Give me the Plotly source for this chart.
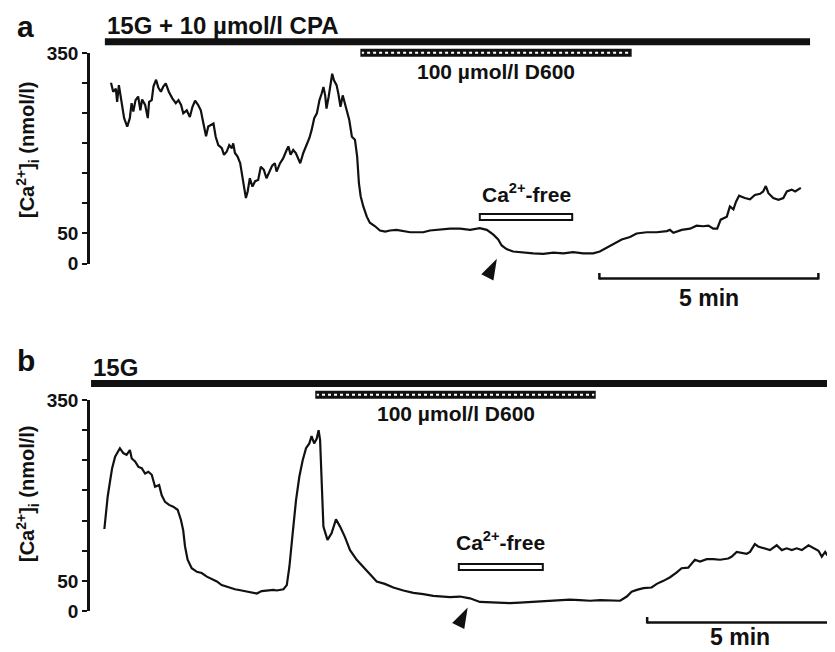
import plotly.graph_objects as go

# page body has an 8 px margin: draw a figure that fits the window exactly
OFF = 8
W, H = 835 - OFF, 652 - OFF

# ---------------- data (time in min, [Ca2+]i in nmol/l) ----------------
t_a = [0.00, 0.05, 0.11, 0.14, 0.18, 0.24, 0.30, 0.37, 0.43, 0.47,
       0.51, 0.56, 0.62, 0.67, 0.71, 0.78, 0.84, 0.87, 0.93, 0.97,
       1.03, 1.08, 1.14, 1.19, 1.25, 1.32, 1.40, 1.48, 1.54, 1.60,
       1.65, 1.73, 1.80, 1.86, 1.92, 1.99, 2.05, 2.11, 2.17, 2.22,
       2.28, 2.34, 2.39, 2.45, 2.53, 2.58, 2.64, 2.70, 2.76, 2.79,
       2.83, 2.89, 2.95, 2.98, 3.03, 3.08, 3.12, 3.17, 3.23, 3.29,
       3.36, 3.42, 3.49, 3.55, 3.61, 3.68, 3.74, 3.78, 3.86, 3.93,
       4.01, 4.05, 4.10, 4.16, 4.22, 4.32, 4.39, 4.47, 4.53, 4.58,
       4.64, 4.70, 4.76, 4.81, 4.85, 4.89, 4.92, 4.97, 5.02, 5.05,
       5.09, 5.15, 5.19, 5.24, 5.29, 5.34, 5.39, 5.44, 5.50, 5.57,
       5.62, 5.66, 5.70, 5.76, 5.84, 5.91, 6.03, 6.14, 6.26, 6.37,
       6.52, 6.67, 6.83, 6.98, 7.13, 7.28, 7.44, 7.59, 7.74, 7.97,
       8.20, 8.42, 8.58, 8.73, 8.84, 8.92, 9.03, 9.18, 9.41, 9.64,
       9.87, 10.10, 10.33, 10.55, 10.78, 11.01, 11.16, 11.32, 11.47, 11.66,
       11.85, 12.00, 12.23, 12.46, 12.69, 12.76, 12.84, 13.03, 13.22, 13.37,
       13.52, 13.64, 13.75, 13.84, 13.92, 14.06, 14.13, 14.21, 14.27, 14.34,
       14.47, 14.59, 14.70, 14.82, 14.89, 14.95, 15.01, 15.12, 15.24, 15.35,
       15.43, 15.54, 15.62, 15.75]
ca_a = [301, 286, 291, 269, 297, 267, 242, 228, 242, 267,
        253, 272, 278, 255, 273, 264, 242, 269, 272, 295,
        306, 293, 286, 294, 300, 286, 275, 267, 272, 264,
        250, 255, 244, 261, 271, 264, 255, 233, 212, 228,
        231, 233, 211, 197, 192, 181, 186, 197, 192, 200,
        184, 178, 167, 150, 131, 109, 120, 142, 128, 137,
        139, 161, 156, 142, 153, 163, 167, 153, 167, 175,
        189, 195, 181, 189, 184, 167, 184, 197, 209, 222,
        242, 250, 272, 283, 294, 280, 258, 278, 300, 316,
        305, 297, 283, 261, 280, 267, 255, 239, 211, 206,
        178, 134, 112, 95, 78, 68, 62, 55, 53, 55,
        56, 54, 52, 52, 52, 55, 56, 58, 58, 58,
        56, 59, 56, 48, 40, 30, 24, 20, 18, 17,
        16, 18, 17, 19, 17, 17, 20, 26, 32, 40,
        44, 50, 52, 52, 54, 56, 51, 56, 58, 63,
        62, 63, 58, 58, 73, 78, 95, 90, 103, 113,
        109, 107, 114, 116, 120, 129, 117, 109, 106, 109,
        120, 123, 120, 126]

t_b = [0.01, 0.05, 0.10, 0.16, 0.22, 0.30, 0.37, 0.43, 0.52, 0.61,
       0.70, 0.75, 0.84, 0.93, 1.02, 1.11, 1.20, 1.29, 1.38, 1.49,
       1.56, 1.65, 1.76, 1.87, 1.99, 2.08, 2.14, 2.19, 2.26, 2.37,
       2.51, 2.64, 2.78, 2.91, 3.05, 3.18, 3.36, 3.54, 3.72, 3.90,
       4.13, 4.26, 4.44, 4.58, 4.67, 4.85, 4.94, 5.01, 5.10, 5.19,
       5.28, 5.37, 5.46, 5.55, 5.61, 5.68, 5.75, 5.80, 5.84, 5.88,
       5.93, 6.04, 6.15, 6.27, 6.38, 6.51, 6.65, 6.83, 7.01, 7.19,
       7.37, 7.59, 7.82, 8.09, 8.36, 8.63, 8.90, 9.17, 9.35, 9.62,
       9.89, 10.16, 10.43, 10.70, 10.97, 11.24, 11.51, 11.78, 12.05, 12.32,
       12.59, 12.86, 13.14, 13.41, 13.68, 13.95, 14.13, 14.26, 14.40, 14.58,
       14.80, 14.94, 15.12, 15.30, 15.48, 15.61, 15.79, 15.97, 16.11, 16.29,
       16.47, 16.65, 16.87, 16.96, 17.10, 17.24, 17.37, 17.46, 17.59, 17.68,
       17.82, 18.00, 18.18, 18.32, 18.45, 18.59, 18.72, 18.86, 19.04, 19.17,
       19.31, 19.40, 19.49, 19.55]
ca_b = [136, 162, 190, 214, 237, 256, 264, 270, 262, 259,
        267, 253, 248, 239, 237, 228, 231, 226, 206, 209,
        192, 181, 176, 173, 168, 151, 134, 107, 85, 71,
        65, 63, 57, 53, 49, 43, 39, 36, 34, 32,
        29, 33, 34, 35, 34, 36, 43, 73, 129, 184,
        223, 250, 270, 278, 290, 278, 286, 300, 284, 212,
        140, 118, 129, 152, 140, 123, 101, 85, 73, 60,
        49, 45, 39, 34, 30, 28, 25, 24, 23, 24,
        21, 15, 14, 13, 13, 14, 15, 17, 18, 19,
        19, 18, 17, 18, 17, 17, 24, 32, 35, 38,
        39, 45, 50, 56, 64, 71, 72, 85, 82, 86,
        86, 85, 87, 90, 98, 97, 95, 98, 111, 107,
        104, 101, 109, 101, 104, 101, 104, 101, 109, 104,
        100, 90, 98, 92]

y_labelled_ticks = [0, 50, 350]
y_minor_ticks = [100, 150, 200, 250, 300]

# treatment periods (min)
cpa_a = [-0.14, 15.96]
d600_a = [5.71, 11.87]
cafree_a = [8.42, 10.53]
g15_b = [-0.35, 19.76]
d600_b = [5.73, 13.27]
cafree_b = [9.59, 11.86]
# arrowhead markers (time, value at tip)
arrow_a = [8.81, 8]
arrow_b = [9.83, 6]
# 5-min scale bars
scale_a = [11.15, 16.15]
scale_b = [14.68, 19.68]

# ---------------- layout helpers (reference-pixel -> paper) ----------------
def px(p):
    return (p - OFF) / W

def py(p):
    return 1 - (p - OFF) / H

FONT = "Liberation Sans, Arial, Helvetica, sans-serif"
BLACK = "#111111"

fig = go.Figure()
fig.add_trace(go.Scatter(x=t_a, y=ca_a, mode="lines", xaxis="x", yaxis="y",
                         line=dict(color=BLACK, width=2.2), hoverinfo="skip"))
fig.add_trace(go.Scatter(x=t_b, y=ca_b, mode="lines", xaxis="x2", yaxis="y2",
                         line=dict(color=BLACK, width=2.2), hoverinfo="skip"))
for arr, xa, ya in [(arrow_a, "x", "y"), (arrow_b, "x2", "y2")]:
    fig.add_trace(go.Scatter(x=[arr[0]], y=[arr[1]], mode="markers", xaxis=xa, yaxis=ya,
                             cliponaxis=False, hoverinfo="skip",
                             marker=dict(symbol="arrow", size=22, angle=27, color=BLACK,
                                         line=dict(width=0))))

yaxis_common = dict(range=[0, 350], showline=True, linecolor=BLACK, linewidth=2.5,
                    ticks="outside", ticklen=5, tickwidth=2, tickcolor=BLACK,
                    tickmode="array", tickvals=y_labelled_ticks,
                    ticktext=[str(v) for v in y_labelled_ticks],
                    minor=dict(tickmode="array", tickvals=y_minor_ticks, ticks="outside",
                               ticklen=5, tickwidth=2, tickcolor=BLACK, showgrid=False),
                    showgrid=False, zeroline=False, fixedrange=True, automargin=False,
                    tickfont=dict(family=FONT, size=19, color=BLACK, weight="bold"))

fig.update_layout(
    template="none",
    width=W, height=H, autosize=False,
    margin=dict(l=0, r=0, t=0, b=0, pad=0, autoexpand=False),
    paper_bgcolor="white", plot_bgcolor="white", showlegend=False,
    xaxis=dict(domain=[px(90), 1], range=[(90 - 111) / 43.8, (835 - 111) / 43.8],
               visible=False, anchor="y", fixedrange=True, automargin=False),
    yaxis=dict(domain=[py(263.5), py(53.3)], anchor="x", **yaxis_common),
    xaxis2=dict(domain=[px(90), 1], range=[(90 - 104) / 37.0, (835 - 104) / 37.0],
                visible=False, anchor="y2", fixedrange=True, automargin=False),
    yaxis2=dict(domain=[py(611), py(400)], anchor="x2", **yaxis_common),
)

shapes = []
annotations = []

def txt(text, x, y, size, xref="paper", xanchor="center", yanchor="middle", angle=0):
    annotations.append(dict(text=text, x=x, y=y, xref=xref, yref="paper",
                            xanchor=xanchor, yanchor=yanchor, showarrow=False,
                            textangle=angle,
                            font=dict(family=FONT, size=size, color=BLACK, weight="bold")))

def panel(xref, bar, d600, cafree, scale, ybar, yd600, ycaf, yscale, title, ytitle_c,
          y_letter, y_title, y_d600_lbl, y_caf_lbl, y_5min, letter, letter_anchor, min_anchor):
    # main treatment bar
    shapes.append(dict(type="rect", xref=xref, yref="paper", x0=bar[0], x1=bar[1],
                       y0=py(ybar[1]), y1=py(ybar[0]), fillcolor=BLACK, line=dict(width=0)))
    # D600 hatched bar
    shapes.append(dict(type="rect", xref=xref, yref="paper", x0=d600[0], x1=d600[1],
                       y0=py(yd600[1]), y1=py(yd600[0]), fillcolor=BLACK, line=dict(width=0)))
    ym = (yd600[0] + yd600[1]) / 2
    shapes.append(dict(type="line", xref=xref, yref="paper", x0=d600[0], x1=d600[1],
                       y0=py(ym), y1=py(ym), line=dict(color="white", width=2, dash="dot")))
    shapes.append(dict(type="rect", xref=xref, yref="paper", x0=d600[0], x1=d600[1],
                       y0=py(yd600[1]), y1=py(yd600[0]), fillcolor="rgba(0,0,0,0)",
                       line=dict(color=BLACK, width=1.5)))
    # Ca-free open bar
    shapes.append(dict(type="rect", xref=xref, yref="paper", x0=cafree[0], x1=cafree[1],
                       y0=py(ycaf[1]), y1=py(ycaf[0]), fillcolor="white",
                       line=dict(color=BLACK, width=2)))
    # scale bar
    shapes.append(dict(type="line", xref=xref, yref="paper", x0=scale[0], x1=scale[1],
                       y0=py(yscale[1]), y1=py(yscale[1]), line=dict(color=BLACK, width=2.5)))
    for xs in scale:
        shapes.append(dict(type="line", xref=xref, yref="paper", x0=xs, x1=xs,
                           y0=py(yscale[0]), y1=py(yscale[1] + 1), line=dict(color=BLACK, width=2.5)))
    # texts
    txt(letter, px(15), y_letter, 30, xanchor="left", yanchor=letter_anchor)
    txt(title, bar[0], py(y_title), 24, xref=xref, xanchor="left")
    txt("100 µmol/l D600", (d600[0] + d600[1]) / 2, py(y_d600_lbl), 21, xref=xref)
    txt("Ca<sup>2+</sup>-free", (cafree[0] + cafree[1]) / 2, py(y_caf_lbl), 21, xref=xref)
    txt("5 min", (scale[0] + scale[1]) / 2, y_5min, 23, xref=xref, yanchor=min_anchor)
    txt("[Ca<sup>2+</sup>]<sub>i</sub> (nmol/l)", px(27), py(ytitle_c), 20, angle=-90)

panel("x", cpa_a, d600_a, cafree_a, scale_a, (38.3, 45.3), (49.5, 56), (214, 220),
      (273, 278.5), "15G + 10 µmol/l CPA", 150, 1.0, 25, 72, 193, py(298), "a",
      "top", "middle")
panel("x2", g15_b, d600_b, cafree_b, scale_b, (380, 387), (391.5, 398), (564, 570),
      (617, 622.5), "15G", 494, py(360), 368, 413, 541, 0.0, "b",
      "middle", "bottom")

fig.update_layout(shapes=shapes, annotations=annotations)
fig.write_html("out.html")
